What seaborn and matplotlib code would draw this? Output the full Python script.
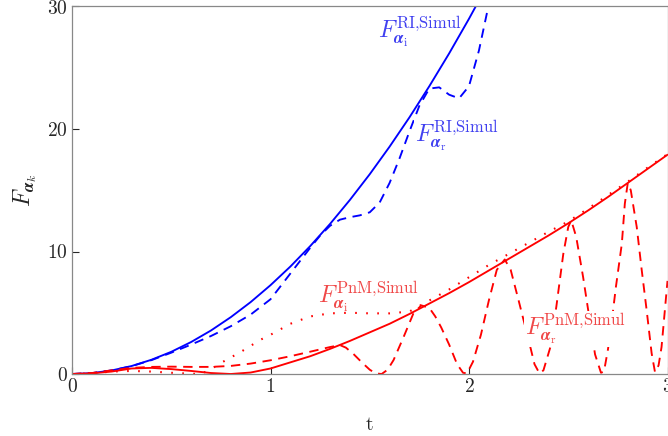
import matplotlib
matplotlib.use("Agg")
import matplotlib.pyplot as plt
import seaborn as sns

# blue: RI, Simul
t_ri_i = [0.0, 0.1, 0.2, 0.3, 0.4, 0.5, 0.6, 0.7, 0.8, 0.9, 1.0, 1.1, 1.2, 1.3,
          1.4, 1.5, 1.6, 1.7, 1.8, 1.9, 2.0, 2.1]
f_ri_i = [0.0, 0.07, 0.29, 0.65, 1.16, 1.81, 2.61, 3.55, 4.64, 5.87, 7.25, 8.77,
          10.44, 12.25, 14.21, 16.31, 18.56, 20.95, 23.49, 26.17, 29.0, 31.97]

t_ri_r = [0.0, 0.1, 0.2, 0.3, 0.4, 0.5, 0.6, 0.7, 0.8, 0.9, 1.0, 1.05, 1.1, 1.15,
          1.2, 1.25, 1.3, 1.35, 1.4, 1.45, 1.5, 1.55, 1.6, 1.65, 1.7, 1.75, 1.8,
          1.85, 1.9, 1.95, 2.0, 2.05, 2.1]
f_ri_r = [0.0, 0.07, 0.29, 0.64, 1.13, 1.74, 2.4, 3.1, 3.9, 4.85, 6.1, 7.15, 8.2,
          9.25, 10.3, 11.3, 12.1, 12.6, 12.8, 12.95, 13.2, 14.0, 15.6, 17.6, 19.8,
          21.9, 23.3, 23.4, 22.8, 22.5, 23.5, 26.4, 30.2]

# red: PnM, Simul
t_pnm_i = [0.0, 0.1, 0.2, 0.3, 0.4, 0.5, 0.6, 0.7, 0.8, 0.9, 1.0, 1.1, 1.2, 1.3,
           1.4, 1.5, 1.6, 1.7, 1.8, 1.9, 2.0, 2.1, 2.2, 2.3, 2.4, 2.5, 2.6, 2.7,
           2.8, 2.9, 3.0]
f_pnm_i = [0.0, 0.05, 0.2, 0.45, 0.5, 0.4, 0.25, 0.08, 0.0, 0.12, 0.45, 0.95,
           1.45, 2.05, 2.7, 3.4, 4.1, 4.9, 5.75, 6.6, 7.5, 8.45, 9.4, 10.35,
           11.3, 12.3, 13.35, 14.45, 15.6, 16.75, 17.9]

t_pnm_dot = [0.0, 0.1, 0.2, 0.3, 0.4, 0.5, 0.6, 0.65, 0.7, 0.75, 0.8, 0.85, 0.9,
             0.95, 1.0, 1.1, 1.2, 1.3, 1.4, 1.5, 1.6, 1.7, 1.8, 1.9, 2.0, 2.1,
             2.2, 2.3, 2.4, 2.5, 2.6, 2.7, 2.8, 2.9, 3.0]
f_pnm_dot = [0.0, 0.05, 0.2, 0.25, 0.2, 0.1, 0.02, 0.0, 0.4, 0.9, 1.35, 1.8, 2.3,
             2.8, 3.2, 4.1, 4.7, 4.95, 5.0, 4.95, 4.95, 5.1, 6.0, 6.9, 7.9, 8.9,
             9.8, 10.7, 11.6, 12.45, 13.5, 14.6, 15.7, 16.85, 17.95]

t_pnm_r = [0.0, 0.1, 0.2, 0.3, 0.4, 0.5, 0.6, 0.7, 0.8, 0.9, 1.0, 1.1, 1.2, 1.3,
           1.35, 1.38, 1.42, 1.46, 1.5, 1.53, 1.56, 1.59, 1.62, 1.67, 1.72, 1.76,
           1.8, 1.83, 1.86, 1.9, 1.94, 1.97, 1.99, 2.02, 2.06, 2.1, 2.14, 2.18,
           2.21, 2.25, 2.3, 2.33, 2.355, 2.375, 2.41, 2.44, 2.475, 2.5, 2.515,
           2.54, 2.575, 2.61, 2.635, 2.665, 2.68, 2.7, 2.72, 2.74, 2.77, 2.785,
           2.8, 2.815, 2.845, 2.87, 2.895, 2.92, 2.937, 2.955, 2.97, 3.0]
f_pnm_r = [0.0, 0.08, 0.3, 0.5, 0.58, 0.6, 0.58, 0.58, 0.66, 0.85, 1.12, 1.45,
           1.82, 2.2, 2.36, 2.15, 1.6, 0.95, 0.35, 0.05, 0.0, 0.35, 1.14, 3.0,
           4.95, 5.6, 5.4, 4.7, 3.8, 2.4, 0.8, 0.1, 0.05, 1.0, 3.2, 6.0, 8.5,
           9.35, 8.5, 6.0, 2.8, 0.8, 0.05, 0.3, 2.2, 5.5, 9.8, 12.0, 12.55,
           11.2, 7.9, 4.2, 1.6, 0.1, 0.2, 2.0, 4.4, 7.1, 10.65, 13.9, 15.6, 15.0,
           12.0, 8.5, 5.2, 1.7, 0.15, 0.7, 2.2, 7.6]

x_ticks = [0, 1, 2, 3]
y_ticks = [0, 10, 20, 30]

sns.set_style("ticks")
plt.rcParams["font.family"] = "serif"
plt.rcParams["font.serif"] = ["cmr10", "DejaVu Serif"]
plt.rcParams["mathtext.fontset"] = "cm"
plt.rcParams["axes.formatter.use_mathtext"] = True

fig = plt.figure(figsize=(6.68, 4.36), dpi=100)
ax = fig.add_axes([72 / 668, 62 / 436, 595.5 / 668, 367.5 / 436])

lw = 1.35
dash = (0, (5, 3.5))
dot = (0, (0.8, 4.5))
sns.lineplot(x=t_ri_i, y=f_ri_i, color="blue", lw=lw, ax=ax)
sns.lineplot(x=t_ri_r, y=f_ri_r, color="blue", lw=lw, linestyle=dash, ax=ax)
sns.lineplot(x=t_pnm_i, y=f_pnm_i, color="red", lw=lw, ax=ax)
sns.lineplot(x=t_pnm_dot, y=f_pnm_dot, color="red", lw=1.5, linestyle=dot, ax=ax)
sns.lineplot(x=t_pnm_r, y=f_pnm_r, color="red", lw=lw, linestyle=dash, ax=ax)

ax.set_xlim(0, 3)
ax.set_ylim(0, 30)
ax.set_xticks(x_ticks)
ax.set_yticks(y_ticks)
ax.tick_params(direction="in", length=5, width=0.8, labelsize=14, pad=3)
for s in ax.spines.values():
    s.set_color("#888888")
    s.set_linewidth(0.9)

ax.set_xlabel("t", fontsize=14, labelpad=14)
ax.set_ylabel(r"$F_{\boldsymbol{\alpha}_k}$", fontsize=17, labelpad=6)

box = dict(facecolor="white", edgecolor="none", pad=0.5)
txt = dict(fontsize=17, ha="left", va="baseline", zorder=5)
ax.text(1.542, 27.4, r"$F_{\boldsymbol{\alpha}_\mathrm{i}}^{\mathrm{RI{,}Simul}}$",
        color="#4040f0", **txt)
ax.text(1.728, 18.9, r"$F_{\boldsymbol{\alpha}_\mathrm{r}}^{\mathrm{RI{,}Simul}}$",
        color="#4040f0", bbox=box, **txt)
ax.text(1.241, 5.76, r"$F_{\boldsymbol{\alpha}_\mathrm{i}}^{\mathrm{PnM{,}Simul}}$",
        color="#f04848", **txt)
ax.text(2.282, 3.18, r"$F_{\boldsymbol{\alpha}_\mathrm{r}}^{\mathrm{PnM{,}Simul}}$",
        color="#f04848", bbox=box, **txt)

plt.savefig("out.png", dpi=100)
plt.close()
